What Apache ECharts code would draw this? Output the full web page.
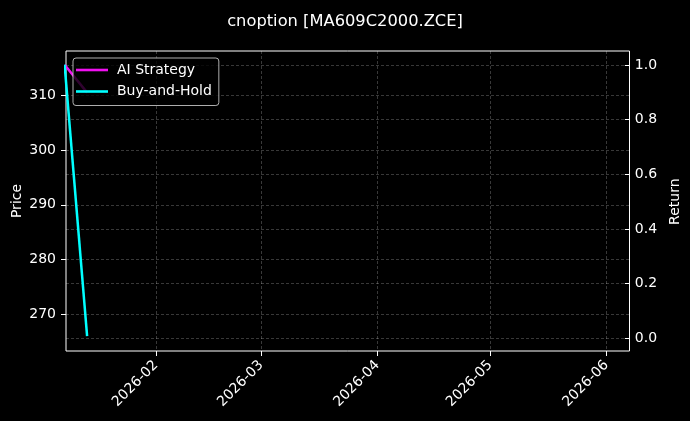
<!DOCTYPE html>
<html>
<head>
<meta charset="utf-8">
<script src="https://cdn.jsdelivr.net/npm/echarts@6/dist/echarts.min.js"></script>
<style>
html,body{margin:0;padding:0;background:#000;}
#chart{width:690px;height:421px;}
</style>
</head>
<body>
<div id="chart"></div>
<script>
// ---- data ----
const titleText = 'cnoption [MA609C2000.ZCE]';
const dates = ['2026-01-07 15:00', '2026-01-13 15:00'];
const aiStrategy = [315.6, 310.5];
const buyAndHold = [315.6, 266.0];
const seriesNames = ['AI Strategy', 'Buy-and-Hold'];
const monthTicks = ['2026-02', '2026-03', '2026-04', '2026-05', '2026-06'];
const priceTicks = [270, 280, 290, 300, 310];
const returnTicks = [0.0, 0.2, 0.4, 0.6, 0.8, 1.0];
const xRange = ['2026-01-08 00:00', '2026-06-07 03:00'];
const priceRange = [263.3, 318.1];

const FONT = 'DejaVu Sans';
const gridLine = {show: true, lineStyle: {color: 'rgba(255,255,255,0.28)', width: 0.8, type: [3, 2]}};
const tick = {show: true, length: 5, lineStyle: {color: '#fff', width: 1}};
const noZero = {show: false, onZero: false};
const toTs = s => echarts.time.parse(s).getTime();
const monthTs = monthTicks.map(m => toTs(m + '-01'));

function monthLabel(v) {
  let best = 0, bd = Infinity;
  monthTs.forEach((t, i) => { const dd = Math.abs(t - v); if (dd < bd) { bd = dd; best = i; } });
  return monthTicks[best];
}

// split month ticks over two bottom axes so no label gets dropped
const evenTs = monthTs.filter((t, i) => i % 2 === 0);
const oddTs = monthTs.filter((t, i) => i % 2 === 1);

function monthAxis(vals) {
  return {
    type: 'value', gridIndex: 0, position: 'bottom', offset: 0,
    min: toTs(xRange[0]), max: toTs(xRange[1]),
    axisLine: noZero,
    axisTick: Object.assign({customValues: vals}, tick),
    axisLabel: {
      color: '#fff', fontSize: 14, fontFamily: FONT, rotate: 45, margin: 12,
      hideOverlap: false, customValues: vals,
      formatter: monthLabel
    },
    splitLine: gridLine
  };
}

const chart = echarts.init(document.getElementById('chart'), null, {renderer: 'canvas'});
chart.setOption({
  backgroundColor: '#000',
  animation: false,
  textStyle: {fontFamily: FONT, color: '#fff'},
  title: {
    text: titleText, left: 'center', top: 9,
    textStyle: {color: '#fff', fontSize: 16.3, fontWeight: 'normal', fontFamily: FONT}
  },
  legend: {
    left: 73, top: 58, orient: 'vertical',
    data: seriesNames,
    icon: 'rect',
    itemWidth: 32, itemHeight: 2.6, itemGap: 5.5,
    padding: [4, 7, 6, 3],
    backgroundColor: 'rgba(0,0,0,0.8)',
    borderColor: 'rgba(204,204,204,0.85)', borderWidth: 1, borderRadius: 3,
    textStyle: {color: '#fff', fontSize: 14, fontFamily: FONT, padding: [0, 0, 0, 4], lineHeight: 16},
    z: 10
  },
  grid: [
    {left: 66, right: 60.5, top: 51, bottom: 70, show: true, borderColor: '#fff', borderWidth: 1, backgroundColor: 'transparent'},
    {left: 66, right: 60.5, top: 95.3, bottom: 106.7},
    {left: 66, right: 60.5, top: 65, bottom: 82.7}
  ],
  xAxis: [
    monthAxis(evenTs),
    {type: 'value', gridIndex: 1, show: false, axisLine: noZero},
    {type: 'value', gridIndex: 2, show: false, axisLine: noZero},
    monthAxis(oddTs)
  ],
  yAxis: [
    {
      type: 'value', gridIndex: 0, min: priceRange[0], max: priceRange[1],
      name: 'Price', nameLocation: 'middle', nameGap: 42, nameRotate: 90,
      nameTextStyle: {color: '#fff', fontSize: 14, fontFamily: FONT},
      axisLine: noZero, axisTick: {show: false}, axisLabel: {show: false}, splitLine: {show: false}
    },
    {
      type: 'value', gridIndex: 1, position: 'left',
      min: priceTicks[0], max: priceTicks[priceTicks.length - 1], interval: priceTicks[1] - priceTicks[0],
      axisLine: noZero, axisTick: tick,
      axisLabel: {color: '#fff', fontSize: 14, fontFamily: FONT, margin: 10},
      splitLine: gridLine
    },
    {
      type: 'value', gridIndex: 2, position: 'right',
      min: returnTicks[0], max: returnTicks[returnTicks.length - 1], interval: 0.2,
      name: 'Return', nameLocation: 'middle', nameGap: 33, nameRotate: 90,
      nameTextStyle: {color: '#fff', fontSize: 14, fontFamily: FONT},
      axisLine: noZero, axisTick: tick,
      axisLabel: {color: '#fff', fontSize: 14, fontFamily: FONT, margin: 10, formatter: v => v.toFixed(1)},
      splitLine: gridLine
    }
  ],
  series: [
    {
      name: seriesNames[0], type: 'line', xAxisIndex: 0, yAxisIndex: 0,
      data: dates.map((d, i) => [toTs(d), aiStrategy[i]]),
      symbol: 'none', lineStyle: {color: '#f010f0', width: 2.5}, itemStyle: {color: '#f010f0'}, z: 3
    },
    {
      name: seriesNames[1], type: 'line', xAxisIndex: 0, yAxisIndex: 0,
      data: dates.map((d, i) => [toTs(d), buyAndHold[i]]),
      symbol: 'none', lineStyle: {color: '#00ffff', width: 2.5}, itemStyle: {color: '#00ffff'}, z: 4
    }
  ]
});
</script>
</body>
</html>
